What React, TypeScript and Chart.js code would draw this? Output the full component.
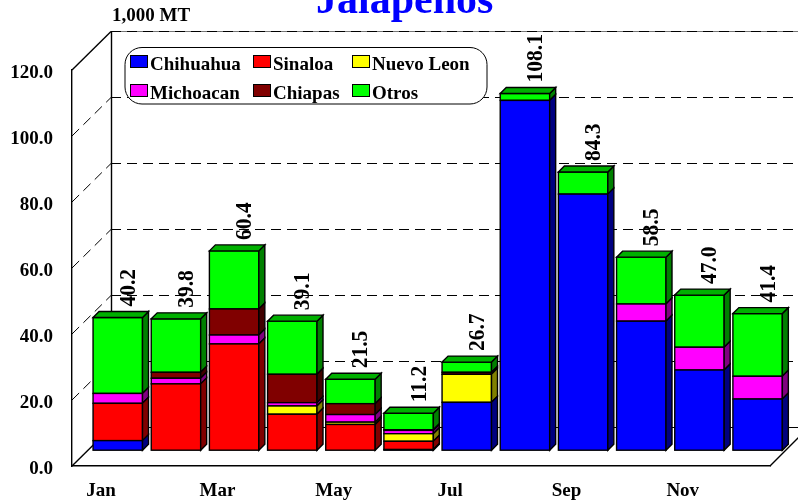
import React, { useEffect, useRef } from "react";
import { Chart, registerables } from "chart.js";

Chart.register(...registerables);

const months = ["Jan", "Feb", "Mar", "Apr", "May", "Jun", "Jul", "Aug", "Sep", "Oct", "Nov", "Dec"];
const chihuahua = [2.9, 0, 0, 0, 0, 0.2, 14.5, 106.0, 77.6, 39.1, 24.3, 15.5];
const sinaloa = [11.3, 20.1, 32.2, 10.9, 7.8, 2.5, 0, 0, 0, 0, 0, 0];
const nuevoLeon = [0, 0, 0, 2.5, 0.7, 2.3, 8.5, 0, 0, 0, 0, 0];
const michoacan = [3.0, 1.7, 2.7, 1.0, 2.3, 1.0, 0, 0, 0, 5.2, 6.9, 6.9];
const chiapas = [0, 1.8, 7.9, 8.6, 3.3, 0.2, 0.6, 0, 0, 0, 0, 0];
const otros = [23.0, 16.2, 17.6, 16.1, 7.4, 5.0, 3.1, 2.1, 6.7, 14.2, 15.8, 19.0];
const totals = [40.2, 39.8, 60.4, 39.1, 21.5, 11.2, 26.7, 108.1, 84.3, 58.5, 47.0, 41.4];

const seriesNames = ["Chihuahua", "Sinaloa", "Nuevo Leon", "Michoacan", "Chiapas", "Otros"];
const seriesValues = [chihuahua, sinaloa, nuevoLeon, michoacan, chiapas, otros];
const frontColors = ["#0000ff", "#ff0000", "#ffff00", "#ff00ff", "#800000", "#00ff00"];
const sideColors = ["#000080", "#800000", "#808000", "#800080", "#400000", "#008000"];
const topColor = "#00b000";

const SERIF = '"Liberation Serif", "Times New Roman", serif';
const LABEL_FONT = `bold 19px ${SERIF}`;

// Oblique depth of the floor and of the bar row resting on it.
const WALL_DEPTH = 39;
const BAR_SHIFT_X = 16.7;
const BAR_SHIFT_Y = 15.8;
const BAR_DEPTH = 6;

const projection = {
  id: "projection",
  afterLayout(chart: any) {
    // The serif digits sit high on a middle baseline; lower the value axis labels a little.
    for (const item of chart.scales.y.getLabelItems(chart.chartArea)) {
      item.options.translation[1] += 3;
    }
  },
  beforeDatasetsDraw(chart: any) {
    const { ctx, chartArea, scales } = chart;
    const y = scales.y;
    const x0 = chartArea.left;
    const x1 = chartArea.right;
    const backLeft = x0 + WALL_DEPTH;
    const backRight = x1 + WALL_DEPTH;
    ctx.save();
    ctx.strokeStyle = "#000";
    ctx.lineWidth = 1;
    for (const v of y.ticks.map((t: any) => t.value)) {
      const py = y.getPixelForValue(v);
      const backY = py - WALL_DEPTH + 0.5;
      const edge = v === 0 || v === 120;
      ctx.setLineDash(edge ? [] : [10, 6]);
      ctx.lineWidth = edge ? 1.4 : 1;
      ctx.beginPath();
      ctx.moveTo(x0, py);
      ctx.lineTo(backLeft, backY);
      ctx.stroke();
      ctx.lineWidth = 1;
      if (v === 120) {
        ctx.strokeStyle = "#777";
        ctx.beginPath();
        ctx.moveTo(backLeft, backY);
        ctx.lineTo(backRight, backY);
        ctx.stroke();
        ctx.strokeStyle = "#000";
        ctx.setLineDash([10, 6]);
      }
      ctx.beginPath();
      ctx.moveTo(backLeft, backY);
      ctx.lineTo(backRight, backY);
      ctx.stroke();
    }
    ctx.setLineDash([]);
    ctx.lineWidth = 1.4;
    ctx.beginPath();
    ctx.moveTo(backLeft + 0.5, y.getPixelForValue(120) - WALL_DEPTH);
    ctx.lineTo(backLeft + 0.5, y.getPixelForValue(0) - WALL_DEPTH);
    ctx.moveTo(x1, y.getPixelForValue(0));
    ctx.lineTo(backRight, y.getPixelForValue(0) - WALL_DEPTH);
    ctx.stroke();
    ctx.restore();
  },
  beforeDatasetDraw(chart: any) {
    chart.ctx.save();
    chart.ctx.translate(BAR_SHIFT_X, -BAR_SHIFT_Y);
  },
  afterDatasetDraw(chart: any, args: any) {
    const { ctx } = chart;
    const index = args.index;
    ctx.lineWidth = 1.4;
    ctx.strokeStyle = "#000";
    for (const bar of args.meta.data) {
      const { x, y, base, width } = bar.getProps(["x", "y", "base", "width"], true);
      if (!(Math.abs(base - y) >= 0.01)) continue;
      const right = x + width / 2;
      const left = x - width / 2;
      ctx.strokeRect(left, y, width, base - y);
      ctx.fillStyle = sideColors[index];
      ctx.beginPath();
      ctx.moveTo(right, y);
      ctx.lineTo(right + BAR_DEPTH, y - BAR_DEPTH);
      ctx.lineTo(right + BAR_DEPTH, base - BAR_DEPTH);
      ctx.lineTo(right, base);
      ctx.closePath();
      ctx.fill();
      ctx.stroke();
      if (index === seriesNames.length - 1) {
        ctx.fillStyle = topColor;
        ctx.beginPath();
        ctx.moveTo(left, y);
        ctx.lineTo(left + BAR_DEPTH, y - BAR_DEPTH);
        ctx.lineTo(right + BAR_DEPTH, y - BAR_DEPTH);
        ctx.lineTo(right, y);
        ctx.closePath();
        ctx.fill();
        ctx.stroke();
      }
    }
    ctx.restore();
  },
  afterDatasetsDraw(chart: any) {
    const { ctx, scales } = chart;
    ctx.save();

    // Month totals, set vertically above each bar.
    ctx.fillStyle = "#000";
    ctx.font = `bold 21.5px ${SERIF}`;
    ctx.textAlign = "left";
    ctx.textBaseline = "alphabetic";
    totals.forEach((total, i) => {
      const px = scales.x.getPixelForValue(i) + BAR_SHIFT_X + 17;
      const py = scales.y.getPixelForValue(total) - BAR_SHIFT_Y - BAR_DEPTH - 5;
      ctx.save();
      ctx.translate(px, py);
      ctx.rotate(-Math.PI / 2);
      ctx.scale(1, 1.08);
      ctx.fillText(total.toFixed(1), 0, 0);
      ctx.restore();
    });

    // Rounded legend box.
    ctx.fillStyle = "#fff";
    ctx.strokeStyle = "#000";
    ctx.lineWidth = 1;
    ctx.beginPath();
    ctx.roundRect(125, 47.5, 362, 56.5, 17);
    ctx.fill();
    ctx.stroke();
    const columns = [130, 253, 352];
    const rows = [55, 84];
    ctx.font = LABEL_FONT;
    seriesNames.forEach((name, i) => {
      const cx = columns[i % 3];
      const cy = rows[Math.floor(i / 3)];
      ctx.fillStyle = frontColors[i];
      ctx.fillRect(cx + 0.5, cy + 0.5, 17, 12);
      ctx.strokeRect(cx + 0.5, cy + 0.5, 17, 12);
      ctx.fillStyle = "#000";
      ctx.fillText(name, cx + 20, cy + 14.5);
    });

    // Heading and unit caption.
    ctx.font = `bold 42px ${SERIF}`;
    ctx.fillStyle = "#0000ff";
    ctx.fillText("Jalapeños", 316, 13);
    ctx.font = LABEL_FONT;
    ctx.fillStyle = "#000";
    ctx.fillText("1,000 MT", 112, 21);
    ctx.restore();
  },
};

export default function App() {
  const canvasRef = useRef<HTMLCanvasElement | null>(null);

  useEffect(() => {
    const chart = new Chart(canvasRef.current as HTMLCanvasElement, {
      type: "bar",
      data: {
        labels: months,
        datasets: seriesNames.map((name, i) => ({
          label: name,
          // Months without a segment stay empty rather than drawing a flat bar.
          data: seriesValues[i].map((v) => (v > 0 ? v : null)),
          backgroundColor: frontColors[i],
          borderWidth: 0,
          inflateAmount: 0,
          categoryPercentage: 1,
          barPercentage: 0.85,
          clip: false,
        })),
      } as any,
      options: {
        responsive: false,
        animation: false,
        layout: { padding: { top: 70, right: 28, left: 0, bottom: 0 } },
        plugins: { legend: { display: false }, tooltip: { enabled: false } },
        scales: {
          x: {
            stacked: true,
            afterFit: (s: any) => { s.height = 37; },
            grid: { display: false },
            border: { color: "#000", width: 1.4 },
            ticks: {
              autoSkip: false,
              maxRotation: 0,
              padding: 6,
              color: "#000",
              font: { family: "Liberation Serif", size: 19, weight: "bold" },
              callback: (_v: any, i: number) => (i % 2 === 0 ? months[i] : ""),
            },
          },
          y: {
            stacked: true,
            min: 0,
            max: 120,
            afterFit: (s: any) => { s.width = 72; },
            grid: { display: false },
            border: { color: "#000", width: 1.4 },
            ticks: {
              stepSize: 20,
              padding: 11,
              color: "#000",
              font: { family: "Liberation Serif", size: 19, weight: "bold" },
              callback: (v: any) => Number(v).toFixed(1),
            },
          },
        },
      } as any,
      plugins: [projection],
    });
    return () => chart.destroy();
  }, []);

  return (
    <div style={{ position: "fixed", left: 0, top: 0, width: 798, height: 503, background: "#fff" }}>
      <canvas ref={canvasRef} width={798} height={503} style={{ display: "block" }} />
    </div>
  );
}
